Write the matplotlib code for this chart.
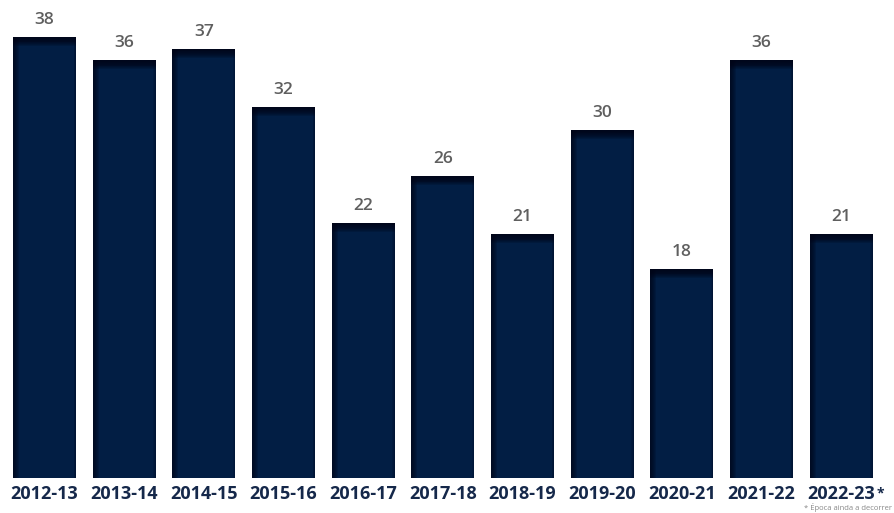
import matplotlib
matplotlib.use("Agg")
import matplotlib.pyplot as plt
import numpy as np

seasons = ["2012-13", "2013-14", "2014-15", "2015-16", "2016-17", "2017-18",
           "2018-19", "2019-20", "2020-21", "2021-22", "2022-23"]
values = [38, 36, 37, 32, 22, 26, 21, 30, 18, 36, 21]

plt.rcParams["font.family"] = ["Open Sans", "DejaVu Sans"]

fig = plt.figure(figsize=(8.95, 5.13), dpi=100)
ax = fig.add_axes([0.0053, 0.0682, 0.979, 0.9045])
x = np.arange(len(values))
width = 0.79
body = "#021e44"
vals = np.array(values)
ax.bar(x, vals, width=width, color=body, zorder=2, linewidth=0)
# dark top strip gradient
n = 10
for i in range(n):
    h = 0.75 * (1 - i / n)
    ax.bar(x, [h] * len(values), width=width, bottom=vals - h,
           color="#000518", alpha=0.2, zorder=3, linewidth=0)
# darker left edge gradient
m = 6
for i in range(m):
    w = 0.075 * (1 - i / m)
    ax.bar(x - width / 2 + w / 2, vals, width=w,
           color="#000518", alpha=0.18, zorder=3, linewidth=0)
# slight right edge
for i in range(3):
    w = 0.03 * (1 - i / 3)
    ax.bar(x + width / 2 - w / 2, vals, width=w,
           color="#000518", alpha=0.12, zorder=3, linewidth=0)

for xi, v in zip(x, values):
    ax.text(xi, v + 0.8, str(v), ha="center", va="bottom", fontsize=12.5,
            fontweight="semibold", color="#5f5f5f")

ax.set_xlim(-0.5, len(values) - 0.5)
ax.set_ylim(0, 40)
ax.set_xticks(x)
ax.set_xticklabels(seasons, fontsize=13, fontweight="bold", color="#15284a")
ax.tick_params(axis="x", length=0, pad=5)
ax.set_yticks([])
for s in ax.spines.values():
    s.set_visible(False)

# asterisk on last label
ax.annotate("*", xy=(x[-1], 0), xycoords="data", xytext=(28, -11),
            textcoords="offset points", fontsize=10, fontweight="bold",
            color="#15284a", ha="center", va="center", annotation_clip=False)

fig.text(892 / 895, 1 - 508 / 513, "* Época ainda a decorrer", fontsize=5.5,
         color="#888888", ha="right", va="center")

fig.savefig("out.png", dpi=100)
